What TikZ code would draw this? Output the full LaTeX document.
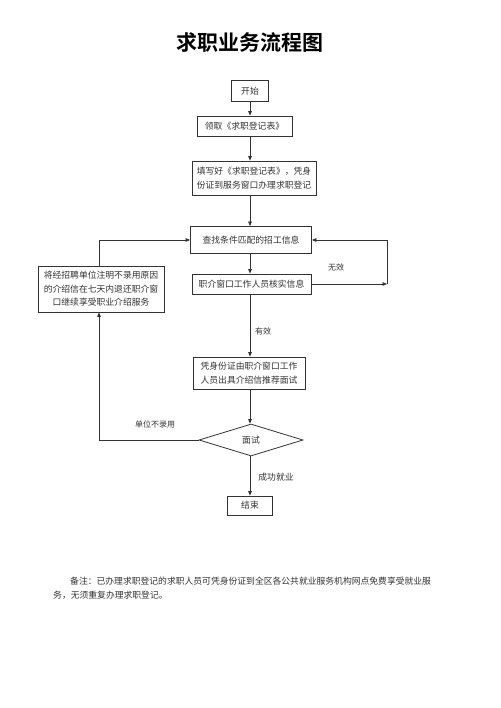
\documentclass[tikz,border=0pt]{standalone}
\usepackage{fontspec}
\setmainfont{Noto Sans CJK SC}
\newfontfamily\titlefont{Noto Sans CJK SC Bold}
\usetikzlibrary{arrows.meta,shapes.geometric}
\definecolor{ink}{HTML}{333333}
\tikzset{
  box/.style={draw=ink, line width=0.8pt, inner sep=0pt, align=center, text=ink,
    font=\fontsize{8.8}{13.5}\selectfont},
  lbl/.style={inner sep=0pt, text=ink, font=\fontsize{8}{10}\selectfont},
  conn/.style={draw=ink, line width=0.8pt},
  arr/.style={conn, -{Triangle[length=4.5pt,width=3.6pt]}},
}
\begin{document}
\begin{tikzpicture}[x=1pt,y=-1pt]
\useasboundingbox[fill=white] (0,0) rectangle (500,708);
\node[inner sep=0pt, font=\titlefont\fontsize{21}{24}\selectfont] (title) at (250,43) {求职业务流程图};

\node[box, minimum width=37pt, minimum height=21pt] (start) at (250,91) {开始};
\node[box, minimum width=95pt, minimum height=20pt] (get) at (244.5,126) {领取《求职登记表》};
\node[box, minimum width=124pt, minimum height=34pt] (fill) at (254,178) {填写好《求职登记表》，凭身\\份证到服务窗口办理求职登记};
\node[box, minimum width=121pt, minimum height=27pt] (find) at (251,240) {查找条件匹配的招工信息};
\node[box, minimum width=119pt, minimum height=20pt] (verify) at (251.5,284) {职介窗口工作人员核实信息};
\node[box, minimum width=126pt, minimum height=46pt] (left) at (101,289) {将经招聘单位注明不录用原因\\的介绍信在七天内退还职介窗\\口继续享受职业介绍服务};
\node[box, minimum width=112pt, minimum height=32pt] (rec) at (249,373) {凭身份证由职介窗口工作\\人员出具介绍信推荐面试};
\node[box, diamond, aspect=3.25, minimum width=104pt, minimum height=32pt] (iv) at (251,440) {面试};
\node[box, minimum width=45pt, minimum height=19pt] (end) at (250,505.5) {结束};

\coordinate (rc) at (387,240);
\coordinate (lc) at (99,440);

\draw[arr] (start.south) -- (start.south |- get.north);
\draw[arr] (get.south -| start) -- (fill.north -| start);
\draw[arr] (fill.south -| start) -- (find.north -| start);
\draw[arr] (find.south -| start) -- (verify.north -| start);
\draw[arr] (verify.south -| start) -- (rec.north -| start);
\draw[arr] (rec.south -| start) -- (iv.north -| start);
\draw[arr] (iv.south -| start) -- (end.north -| start);

\draw[arr] (verify.east) -- (verify.east -| rc);
\draw[arr] (verify.east -| rc) -- (rc) -- (find.east);
\draw[arr] (iv.west) -- (lc) -- (lc |- left.south);
\draw[arr] (lc |- left.north) |- (find.west);

\node[lbl] (l1) at (336,267) {无效};
\node[lbl] (l2) at (263,331) {有效};
\node[lbl] (l3) at (155,424) {单位不录用};
\node[lbl, font=\fontsize{8.8}{10}\selectfont] (l4) at (276,477) {成功就业};

\node[lbl, anchor=west, font=\fontsize{8.8}{10}\selectfont] (n1) at (70,581) {备注：已办理求职登记的求职人员可凭身份证到全区各公共就业服务机构网点免费享受就业服};
\node[lbl, anchor=west, font=\fontsize{8.8}{10}\selectfont] (n2) at (53,595) {务，无须重复办理求职登记。};
\end{tikzpicture}
\end{document}
